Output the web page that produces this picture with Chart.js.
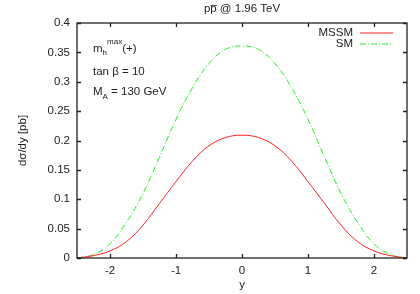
<!DOCTYPE html>
<html>
<head>
<meta charset="utf-8">
<script src="https://cdn.jsdelivr.net/npm/chart.js@4/dist/chart.umd.min.js"></script>
<style>
html,body{margin:0;padding:0;background:#fff;}
#wrap{width:420px;height:294px;}
</style>
</head>
<body>
<div id="wrap"><canvas id="c" width="420" height="294"></canvas></div>
<script>
// rapidity grid and d(sigma)/dy values
const rapidity=[-2.5,-2.25,-2,-1.75,-1.5,-1.25,-1,-0.75,-0.5,-0.25,0,0.25,0.5,0.75,1,1.25,1.5,1.75,2,2.25,2.5];
const mssm=[0,0.004,0.012,0.028,0.056,0.093,0.130,0.165,0.191,0.205,0.209,0.205,0.191,0.165,0.130,0.093,0.056,0.028,0.012,0.004,0];
const sm=[0,0.006,0.024,0.061,0.110,0.172,0.236,0.290,0.331,0.355,0.361,0.355,0.331,0.290,0.236,0.172,0.110,0.061,0.024,0.006,0];
const xTicks=[-2,-1,0,1,2];
const yTicks=[0,0.05,0.1,0.15,0.2,0.25,0.3,0.35,0.4];
const seriesNames=["MSSM","SM"];

const FONT="'Liberation Sans', Arial, sans-serif";
const FS=11.5;
const INK="#222";
const TL=4;

function runs(ctx,x,base,parts){
  parts.forEach(([t,size,dy])=>{
    ctx.font=size+"px "+FONT;
    ctx.fillText(t,x,base+dy);
    x+=ctx.measureText(t).width;
  });
}

const frame={id:"frame",afterDraw(c){
  const {ctx,chartArea:a,scales:{x,y}}=c;
  ctx.save();
  ctx.strokeStyle=INK;ctx.lineWidth=1.3;ctx.setLineDash([]);
  ctx.beginPath();
  xTicks.forEach(v=>{
    const p=Math.round(x.getPixelForValue(v))+0.5;
    ctx.moveTo(p,a.bottom);ctx.lineTo(p,a.bottom-TL);
    ctx.moveTo(p,a.top);ctx.lineTo(p,a.top+TL);
  });
  yTicks.forEach(v=>{
    const p=Math.round(y.getPixelForValue(v))+0.5;
    ctx.moveTo(a.left,p);ctx.lineTo(a.left+TL,p);
    ctx.moveTo(a.right,p);ctx.lineTo(a.right-TL,p);
  });
  ctx.stroke();
  ctx.strokeRect(a.left,a.top,a.right-a.left,a.bottom-a.top);

  ctx.fillStyle=INK;
  // title
  ctx.font=FS+"px "+FONT;ctx.textAlign="center";ctx.textBaseline="alphabetic";
  ctx.fillText("pp\u0305 @ 1.96 TeV",(a.left+a.right)/2,12);

  // legend, gnuplot style: text then sample
  ctx.textAlign="right";ctx.textBaseline="middle";
  c.data.datasets.forEach((ds,i)=>{
    const ty=a.top+9.5+i*11;
    ctx.fillStyle=INK;ctx.font=FS+"px "+FONT;
    ctx.fillText(ds.label,a.right-54,ty);
    ctx.strokeStyle=ds.borderColor;ctx.lineWidth=1;
    ctx.setLineDash(ds.borderDash||[]);
    ctx.beginPath();ctx.moveTo(a.right-47,ty+0.5);ctx.lineTo(a.right-14,ty+0.5);ctx.stroke();
  });
  ctx.setLineDash([]);

  // labels inside the plot
  ctx.fillStyle=INK;ctx.textAlign="left";ctx.textBaseline="alphabetic";
  const lx=a.left+16;
  runs(ctx,lx,a.top+28.5,[["m",FS,0],["h",8,3.5],["max",8,-7.5],["(+)",FS,0]]);
  runs(ctx,lx,a.top+51.5,[["tan \u03b2 = 10",FS,0]]);
  runs(ctx,lx,a.top+72,[["M",FS,0],["A",8,4],[" = 130 GeV",FS,0]]);
  ctx.restore();
}};

const pts=vals=>rapidity.map((r,i)=>({x:r,y:vals[i]}));

new Chart(document.getElementById("c"),{
  type:"line",
  data:{datasets:[
    {label:seriesNames[0],data:pts(mssm),borderColor:"#ff2020",borderWidth:1,pointRadius:0,tension:0.4,fill:false},
    {label:seriesNames[1],data:pts(sm),borderColor:"#22ee22",borderWidth:1,borderDash:[6,2,1,2],pointRadius:0,tension:0.4,fill:false}
  ]},
  options:{
    responsive:false,
    animation:false,
    events:[],
    layout:{padding:{top:23,right:13,left:0,bottom:0}},
    plugins:{legend:{display:false},tooltip:{enabled:false},title:{display:false}},
    scales:{
      x:{
        type:"linear",min:-2.5,max:2.5,
        afterBuildTicks:s=>{s.ticks=xTicks.map(v=>({value:v}));},
        afterFit:s=>{s.height=36;},
        grid:{display:false,drawTicks:false},
        border:{display:false},
        ticks:{padding:6,color:INK,font:{family:FONT,size:FS},maxRotation:0,autoSkip:false,callback:v=>String(v)},
        title:{display:true,text:"y",color:INK,font:{family:FONT,size:FS},padding:{top:0,bottom:2}}
      },
      y:{
        type:"linear",min:0,max:0.4,
        afterBuildTicks:s=>{s.ticks=yTicks.map(v=>({value:v}));},
        afterFit:s=>{s.width=77;},
        grid:{display:false,drawTicks:false},
        border:{display:false},
        ticks:{padding:7,color:INK,font:{family:FONT,size:FS},autoSkip:false,callback:v=>String(+v.toFixed(2))},
        title:{display:true,text:"d\u03c3/dy [pb]",color:INK,font:{family:FONT,size:FS},padding:{top:16,bottom:0}}
      }
    }
  },
  plugins:[frame]
});
</script>
</body>
</html>
